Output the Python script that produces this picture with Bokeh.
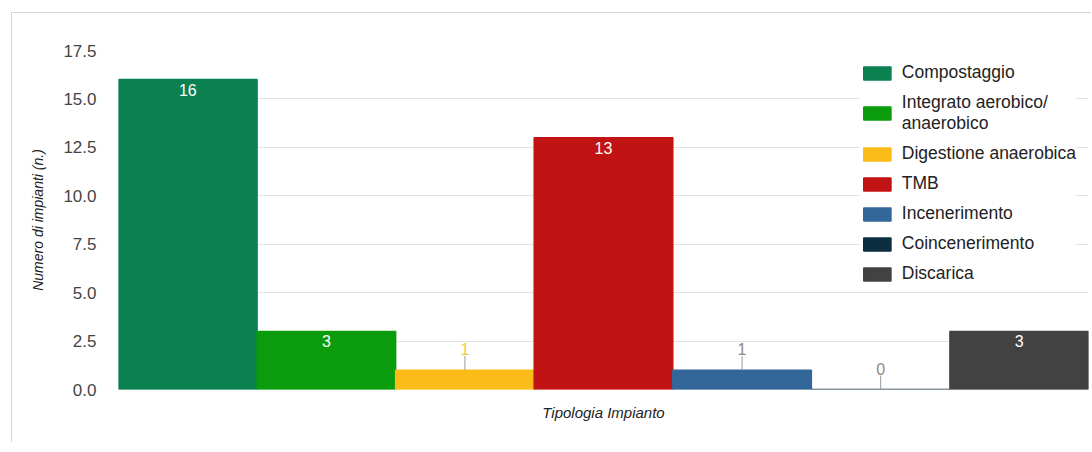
from bokeh.plotting import figure
from bokeh.models import ColumnDataSource, Range1d, FixedTicker, Legend, LegendItem, CustomJSTickFormatter
from bokeh.core.properties import value
from bokeh.embed import file_html
from bokeh.resources import INLINE

categories = ["Compostaggio", "Integrato aerobico/\nanaerobico", "Digestione anaerobica",
              "TMB", "Incenerimento", "Coincenerimento", "Discarica"]
counts = [16, 3, 1, 13, 1, 0, 3]
colors = ["#0b8050", "#0a9c0c", "#fbbc1a", "#c21314", "#336799", "#0c2e40", "#424242"]
outside_label_colors = ["#ffffff", "#ffffff", "#f3c84a", "#ffffff", "#8a8a8a", "#8a8a8a", "#ffffff"]
y_ticks = [0, 2.5, 5, 7.5, 10, 12.5, 15, 17.5]

FONT = "Liberation Sans"
n = len(categories)
xs = [i + 0.5 for i in range(n)]

p = figure(width=1080, height=430, output_backend="svg", toolbar_location=None,
           x_range=Range1d(0, n), y_range=Range1d(0, 17.5),
           min_border_left=106, min_border_right=4, min_border_top=37, min_border_bottom=54)
p.margin = (12, 0, 0, 11)
p.styles = {"border-top": "1px solid #d4d4d4", "border-left": "1px solid #d4d4d4"}
p.outline_line_color = None
p.background_fill_color = "white"

# grid
p.xgrid.grid_line_color = None
p.ygrid.grid_line_color = "#e2e2e2"
p.ygrid.ticker = FixedTicker(ticks=y_ticks)

# y axis
p.yaxis.ticker = FixedTicker(ticks=y_ticks)
p.yaxis.formatter = CustomJSTickFormatter(code="return tick.toFixed(1);")
p.yaxis.axis_line_color = None
p.yaxis.major_tick_line_color = None
p.yaxis.minor_tick_line_color = None
p.yaxis.major_label_standoff = 16
p.yaxis.major_label_text_font = FONT
p.yaxis.major_label_text_font_size = "17px"
p.yaxis.major_label_text_color = "#444444"
p.yaxis.axis_label = "Numero di impianti (n.)"
p.yaxis.axis_label_text_font = FONT
p.yaxis.axis_label_text_font_style = "italic"
p.yaxis.axis_label_text_font_size = "14px"
p.yaxis.axis_label_text_color = "#222222"
p.yaxis.axis_label_standoff = 14

# x axis
p.xaxis.ticker = FixedTicker(ticks=[])
p.xaxis.axis_line_color = None
p.xaxis.major_tick_line_color = None
p.xaxis.minor_tick_line_color = None
p.xaxis.axis_label = "Tipologia Impianto"
p.xaxis.axis_label_text_font = FONT
p.xaxis.axis_label_text_font_style = "italic"
p.xaxis.axis_label_text_font_size = "15px"
p.xaxis.axis_label_text_color = "#222222"
p.xaxis.axis_label_standoff = 14

src = ColumnDataSource(dict(x=xs, top=counts, color=colors, cat=categories))
bars = p.vbar(x="x", top="top", width=1.0, bottom=0, source=src,
              fill_color="color", line_color="color", line_width=1.5)

# value labels: inside for tall bars, above with a stem for short ones
in_x, in_y, in_t = [], [], []
out_x, out_y, out_t, out_c = [], [], [], []
for x, v, c in zip(xs, counts, outside_label_colors):
    if v >= 2:
        in_x.append(x); in_y.append(v); in_t.append(str(v))
    else:
        out_x.append(x); out_y.append(v); out_t.append(str(v)); out_c.append(c)

p.text(x=in_x, y=in_y, text=in_t, text_align="center", text_baseline="top",
       y_offset=4, text_color="white", text_font=value(FONT), text_font_size="16px")

STEM = 0.72  # stem length in value units (~14px)
p.segment(x0=out_x, y0=out_y, x1=out_x, y1=[v + STEM for v in out_y],
          line_color="#9a9a9a", line_width=1)
p.text(x=out_x, y=out_y, text=out_t, text_align="center", text_baseline="middle",
       y_offset=-21, text_color=out_c, text_font=value(FONT), text_font_size="16px")

legend = Legend(items=[LegendItem(label=c, renderers=[bars], index=i) for i, c in enumerate(categories)],
                location="top_right")
legend.label_text_font = FONT
legend.label_text_font_size = "17.5px"
legend.label_text_color = "#222222"
legend.label_standoff = 8
legend.glyph_width = 34
legend.glyph_height = 16
legend.spacing = 9
legend.padding = 8
legend.margin = 12
legend.border_line_color = None
legend.background_fill_color = "white"
legend.background_fill_alpha = 1.0
p.add_layout(legend)

open("out.html", "w").write(file_html(p, INLINE))
